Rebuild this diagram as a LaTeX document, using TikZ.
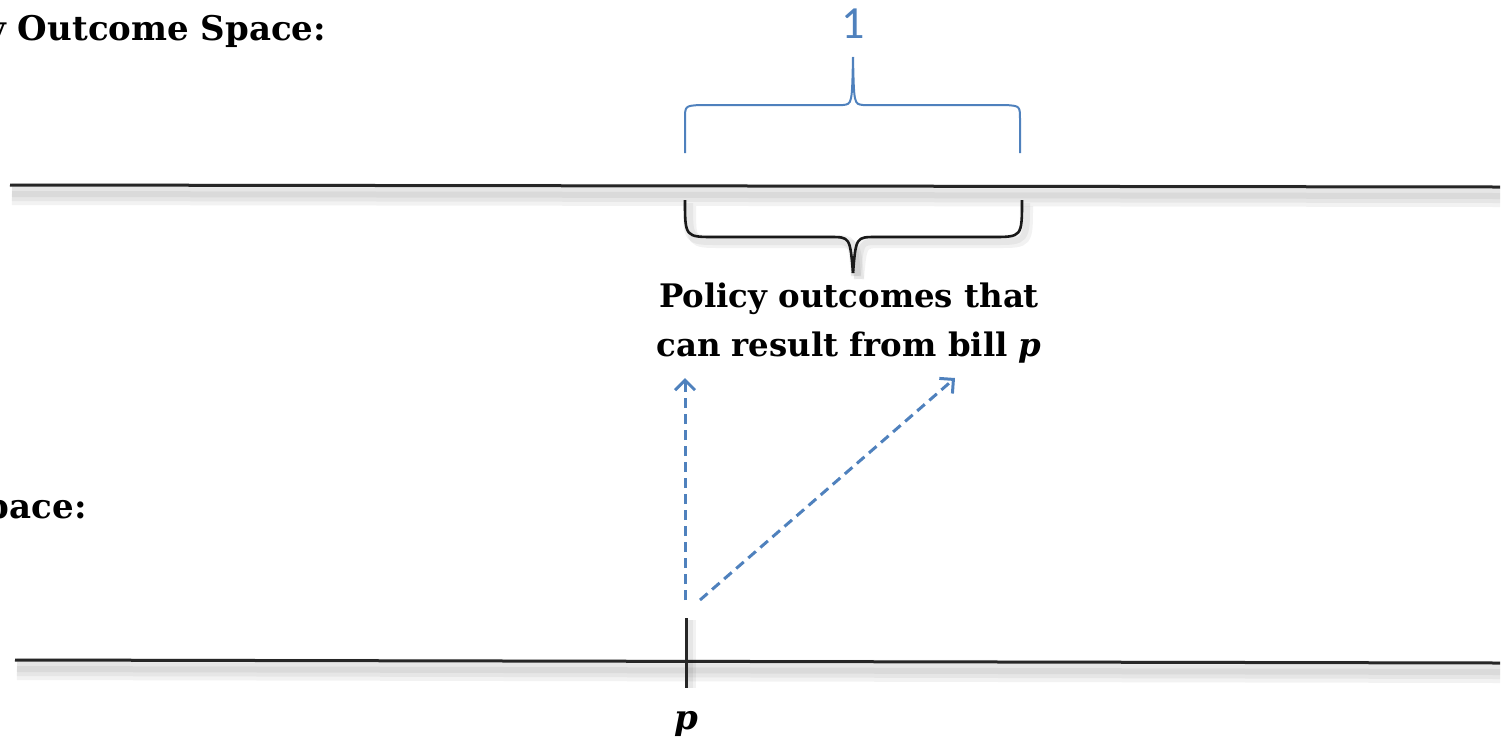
\documentclass[tikz,border=0pt]{standalone}
\usepackage{fontspec}
\setmainfont{DejaVu Serif}
\newfontfamily\calfont{Carlito}
\usetikzlibrary{arrows.meta}
\definecolor{outblue}{HTML}{4F81BD}

\newcommand*{\picw}{1505}
\newcommand*{\pich}{741}

\begin{document}
\begin{tikzpicture}
[
	x=0.5pt,
	y=-0.5pt,
	axisline/.style={line width=1.5pt,black!85},
	axisshadow/.style={line width=7pt,black,opacity=0.05},
	bluebrace/.style={outblue,line width=1pt},
	blackbrace/.style={black!90,line width=1.3pt},
	braceshadow/.style={line width=5pt,black,opacity=0.05},
	mapsto/.style={outblue,line width=1.5pt,dash pattern=on 5pt off 3pt,-{Straight Barb[length=5pt,width=10pt]}},
	heading/.style={font=\fontsize{17}{20}\selectfont\bfseries,inner sep=0pt},
	outlabel/.style={font=\fontsize{16.2}{24.5}\selectfont\bfseries,align=center,inner sep=0pt}
]

	% frame
	\useasboundingbox (0,0) rectangle (\picw,\pich);
	\clip (0,0) rectangle (\picw,\pich);

	% headings (cut off at the left)
	\node[heading,anchor=base west] (outspace) at (-14,40) {y Outcome Space:};
	\node[heading,anchor=base east] (billspace) at (87,518) {pace:};

	% outcome line
	\foreach \d in {4,8,12}
		\draw[axisshadow] (12,186+\d) -- (1500,188+\d);
	\draw[axisline] (10,185) -- (1500,187);

	% bill line
	\foreach \d in {4,8,12}
		\draw[axisshadow] (17,661+\d) -- (1500,664+\d);
	\draw[axisline] (15,660) -- (1500,663);
	\foreach \d in {3,6}
		\draw[axisshadow,line width=4pt] (686+\d,620) -- (686+\d,688);
	\draw[axisline] (686,618) -- (686,688);
	\node[font=\fontsize{17}{20}\selectfont\bfseries\itshape,anchor=base] (billp) at (686,729) {p};

	% width of the set
	\node[font=\calfont\fontsize{23}{28}\selectfont,text=outblue] (one) at (853,24) {1};
	\draw[bluebrace] (685,153) -- (685,120) .. controls (685,106) .. (699,105) -- (843,105) .. controls (852,104) .. (853,57);
	\draw[bluebrace] (1020,153) -- (1020,120) .. controls (1020,106) .. (1006,105) -- (863,105) .. controls (854,104) .. (853,57);

	% reachable outcomes
	\foreach \d in {3,6}
	{
		\draw[braceshadow] (685+\d,200+\d) .. controls (685+\d,237+\d) .. (715+\d,237+\d) -- (830+\d,237+\d) .. controls (850+\d,237+\d) .. (853+\d,273+\d);
		\draw[braceshadow] (1022+\d,200+\d) .. controls (1022+\d,237+\d) .. (992+\d,237+\d) -- (876+\d,237+\d) .. controls (856+\d,237+\d) .. (853+\d,273+\d);
	}
	\draw[blackbrace] (685,200) .. controls (685,237) .. (715,237) -- (830,237) .. controls (850,237) .. (853,273);
	\draw[blackbrace] (1022,200) .. controls (1022,237) .. (992,237) -- (876,237) .. controls (856,237) .. (853,273);
	\node[outlabel,anchor=north] (outcomes) at (849,282) {Policy outcomes that\\can result from bill \textit{p}};

	% bill p maps to
	\coordinate (from1) at (685,600);
	\coordinate (from2) at (700,600);
	\coordinate (to1) at (685,378);
	\coordinate (to2) at (955,378);
	\draw[mapsto] (from1) -- (to1);
	\draw[mapsto] (from2) -- (to2);

\end{tikzpicture}
\end{document}
